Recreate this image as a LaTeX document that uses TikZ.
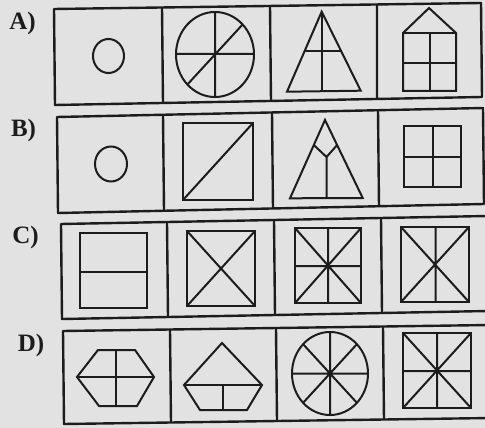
\documentclass[tikz,border=0pt]{standalone}
\usepackage{fontspec}
\setmainfont{Liberation Serif}
\definecolor{bg}{RGB}{226,226,226}
\definecolor{ink}{RGB}{28,28,28}
\tikzset{
  frame/.style={draw=ink, line width=2.4pt, line join=round},
  fig/.style={draw=ink, line width=2.0pt, line join=miter},
  lab/.style={text=ink, font=\bfseries\fontsize{25}{25}\selectfont, inner sep=0pt}
}
\begin{document}
\begin{tikzpicture}[x=1pt,y=-1pt]
\fill[bg] (0,0) rectangle (485,428);
\useasboundingbox (0,0) rectangle (485,428);
\clip (0,0) rectangle (485,428);

% labels
\node[lab] (la) at (22.5,23) {A)};
\node[lab] (lb) at (23.5,130) {B)};
\node[lab] (lc) at (25.5,237) {C)};
\node[lab] (ld) at (31,345.5) {D)};

% row frames
\draw[frame] (54,9) -- (481,3) -- (482,97) -- (55,105) -- cycle;
\draw[frame] (162,7.5) -- (163,103) (270,6) -- (271,101) (377,4.5) -- (377,99);
\draw[frame] (57,117) -- (483,108) -- (484,204) -- (58,213) -- cycle;
\draw[frame] (163,114.8) -- (164,210.8) (272,112.5) -- (273,208.5) (378,110.2) -- (379,206.3);
\draw[frame] (61,224) -- (487,216) -- (488,311) -- (62,319) -- cycle;
\draw[frame] (167,222) -- (168,317) (274,220) -- (275,315) (381,218) -- (382,313);
\draw[frame] (63,331) -- (490,325) -- (491,418) -- (64,424) -- cycle;
\draw[frame] (170,329.5) -- (171,422.6) (276,328) -- (277,421) (383,326.5) -- (384,419.5);

% row A
\draw[fig] (108.5,56) ellipse [x radius=15.5pt, y radius=17pt];
\draw[fig] (215,54.5) ellipse [x radius=39pt, y radius=42.5pt];
\draw[fig] (215,12) -- (215,97) (176,54) -- (254,54) (242.6,24.5) -- (187.4,84.5);
\draw[fig] (321.7,11.7) -- (360.7,90.7) -- (287,91.7) -- cycle;
\draw[fig] (322,11.7) -- (322,91.2) (304.8,50.7) -- (340.9,50.7);
\draw[fig] (403,33) -- (429,8) -- (456,33) -- (456,91) -- (403,91) -- cycle;
\draw[fig] (403,33) -- (456,33) (430,33) -- (430,91) (403,63) -- (456,63);

% row B
\draw[fig] (111,164) ellipse [x radius=16pt, y radius=17.5pt];
\draw[fig] (183,123) rectangle (253,200);
\draw[fig] (183,200) -- (253,123);
\draw[fig] (325,120) -- (362.7,198) -- (290,198.3) -- cycle;
\draw[fig] (313.8,145) -- (326.5,157) -- (337.2,145) (326.5,157) -- (326.5,198.2);
\draw[fig] (404,126) rectangle (461,187);
\draw[fig] (432.5,126) -- (432.5,187) (404,157) -- (461,157);

% row C
\draw[fig] (80,233) rectangle (147,308);
\draw[fig] (80,272) -- (147,272);
\draw[fig] (187,231) rectangle (255,306);
\draw[fig] (187,231) -- (255,306) (187,306) -- (255,231);
\draw[fig] (295,228) rectangle (361,303);
\draw[fig] (295,228) -- (361,303) (295,303) -- (361,228) (328,228) -- (328,303) (295,266) -- (361,266);
\draw[fig] (401,227) rectangle (469,302);
\draw[fig] (401,227) -- (469,302) (401,302) -- (469,227) (435.5,227) -- (435.5,302);

% row D
\draw[fig] (98,350) -- (135,350) -- (154,377) -- (137,406) -- (99,406) -- (77,377) -- cycle;
\draw[fig] (116,350) -- (116,406) (77,377) -- (154,377);
\draw[fig] (222,343) -- (262,385) -- (247,410) -- (200,410) -- (184,385) -- cycle;
\draw[fig] (184,385) -- (262,385) (222.5,385) -- (222.5,410);
\draw[fig] (330,373.5) ellipse [x radius=38pt, y radius=41.5pt];
\draw[fig] (330,332) -- (330,415) (292,373.5) -- (368,373.5)
  (356.9,344.2) -- (303.1,402.8) (303.1,344.2) -- (356.9,402.8);
\draw[fig] (403,333) rectangle (471,408);
\draw[fig] (403,333) -- (471,408) (403,408) -- (471,333) (437,333) -- (437,408) (403,371) -- (471,371);
\end{tikzpicture}
\end{document}
